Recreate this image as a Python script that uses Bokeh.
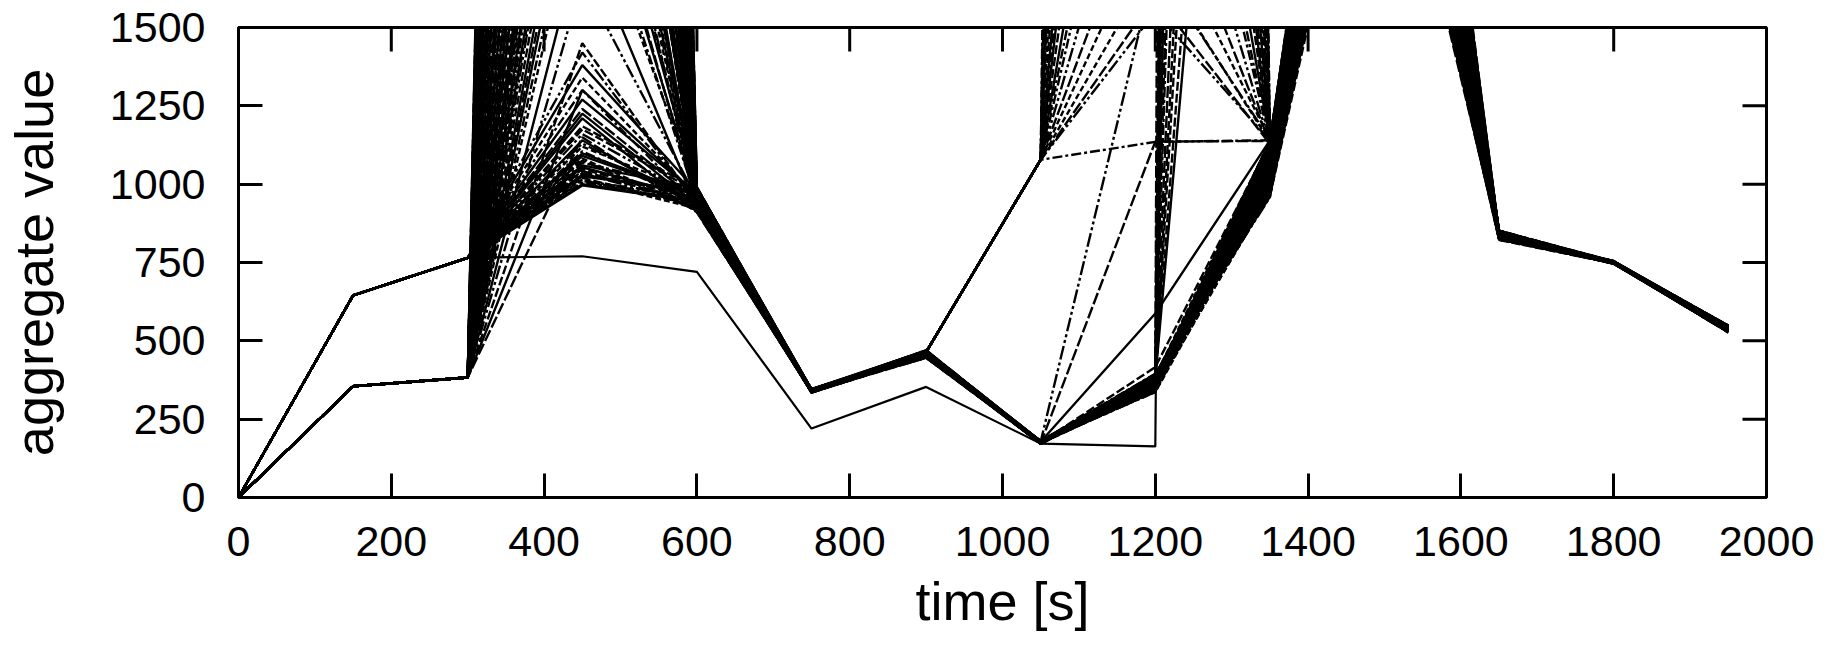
import math
from bokeh.plotting import figure
from bokeh.models import Range1d, FixedTicker
from bokeh.embed import file_html
from bokeh.resources import INLINE

# ---------------- data ----------------
times = [0, 150, 300, 450, 600, 750, 900, 1050, 1200, 1350, 1500, 1650, 1800, 1950]
x_ticks = [0, 200, 400, 600, 800, 1000, 1200, 1400, 1600, 1800, 2000]
y_ticks = [0, 250, 500, 750, 1000, 1250, 1500]

# the separate lower run
run_low = [0, 645, 765, 770, 720, 220, 353, 172, 163, 40000, 2800, 840, 750, 540]

# further runs, set 1 (63 runs: 42 through 383 at t=300, 21 through 765)
# and set 2 (42 runs: 30 through 383 at t=300, 12 through 765)
v0 = [0] * 105
v150 = [355] * 42 + [645] * 21 + [355] * 30 + [645] * 12
v300 = [383] * 42 + [765] * 21 + [383] * 30 + [765] * 12
v450 = [17100, 16300, 15600, 14950, 14300, 13300, 12350, 11550, 10850, 9950,
        9200, 8550, 8000, 7350, 6800, 6350, 5800, 5300, 4900, 4550,
        4300, 4000, 3800, 3600, 3450, 3200, 3050, 2900, 2750, 2600,
        2500, 2400, 2300, 2220, 2150, 2060, 1980, 1800, 1650, 1450,
        1300, 1150,
        996, 1005, 1015, 1025, 1035, 1048, 1060, 1075, 1090, 1105,
        1120, 1140, 1160, 1185, 1210, 1240, 1270, 1300, 1340, 1380, 1420,
        16800, 15900, 15200, 14600, 13800, 12800, 11950, 11200, 10350, 9600,
        8900, 8300, 7650, 7100, 6600, 6050, 5550, 5100, 4750, 4400,
        4150, 3900, 3700, 3500, 3300, 3150, 2950, 2800, 2700, 2550,
        1000, 1010, 1020, 1030, 1042, 1054, 1068, 1082, 1098, 1130, 1175, 1225]
v600 = [950, 985, 972, 940, 962, 930, 978, 955, 915, 990, 945, 968, 925, 982, 958,
        935, 975, 948, 920, 988, 960, 938, 970, 912, 952, 980, 928, 965, 942, 986,
        918, 957, 974, 933, 962, 946, 979, 924, 954, 937, 967, 910,
        944, 958, 922, 976, 935, 951, 988, 916, 963, 941, 971, 929, 956, 984, 913,
        947, 969, 932, 961, 978, 939,
        948, 983, 927, 966, 913, 958, 976, 939, 991, 952, 921, 969, 944, 986, 931,
        961, 917, 974, 949, 936, 981, 957, 926, 965, 943, 989, 933, 971, 919, 953,
        947, 962, 929, 973, 938, 955, 984, 921, 966, 942, 977, 934]
v750 = [340, 338, 343, 336, 341, 345, 337, 339, 342, 335, 344, 338, 340, 346, 336,
        341, 339, 343, 337, 345, 340, 335, 342, 338, 344, 336, 341, 339, 346, 337,
        343, 340, 338, 345, 336, 342, 339, 344, 337, 341, 335, 343,
        339, 342, 336, 345, 338, 341, 344, 337, 340, 343, 335, 346, 339, 342, 336,
        341, 338, 344, 340, 337, 343,
        339, 344, 337, 342, 346, 335, 340, 343, 338, 345, 336, 341, 344, 339, 337,
        342, 345, 336, 340, 343, 338, 341, 346, 335, 339, 344, 337, 342, 340, 338,
        343, 336, 341, 345, 339, 337, 342, 344, 338, 340, 335, 343]
v900 = [458, 452, 466, 464, 449, 461, 464, 455, 468, 464, 447, 459, 464, 463, 451,
        464, 457, 469, 464, 448, 462, 464, 454, 466, 464, 450, 460, 464, 456, 467,
        464, 446, 461, 464, 453, 465, 464, 449, 458, 470, 452, 463,
        455, 468, 464, 447, 460, 452, 466, 464, 450, 462, 457, 469, 464, 448, 459,
        454, 467, 464, 451, 461, 456,
        464, 457, 449, 466, 464, 452, 469, 455, 464, 447, 461, 458, 464, 450, 467,
        453, 464, 460, 448, 465, 464, 456, 451, 468, 464, 459, 446, 462, 464, 454,
        457, 463, 449, 468, 452, 460, 446, 465, 455, 470, 450, 461]
v1050 = [176, 179, 173, 1078, 180, 175, 1078, 178, 171, 1078, 180, 177, 1078, 174, 179,
         1078, 178, 172, 1078, 180, 176, 1078, 173, 179, 1078, 178, 171, 1078, 180, 175,
         1078, 179, 177, 1078, 174, 180, 1078, 172, 179, 176, 178, 173,
         178, 174, 1078, 179, 176, 172, 180, 1078, 179, 175, 180, 173, 1078, 177, 180,
         174, 179, 1078, 176, 171, 178,
         1078, 177, 173, 179, 1078, 175, 180, 172, 1078, 178, 174, 176, 1078, 179, 171,
         177, 1078, 173, 180, 175, 1078, 178, 172, 176, 1078, 179, 174, 177, 1078, 173,
         176, 179, 172, 178, 174, 180, 175, 171, 177, 179, 173, 178]
v1200 = [372, 384, 356, 30000, 390, 341, 13800, 379, 365, 20000, 348, 393, 7450, 376, 338,
         10000, 386, 361, 5300, 395, 352, 4250, 381, 344, 3200, 388, 368, 2670, 336, 374,
         2350, 382, 359, 2060, 391, 346, 1870, 377, 1700, 416, 587, 1136,
         363, 387, 1710, 350, 383, 378, 340, 1600, 370, 392, 355, 380, 1550, 366, 389,
         343, 375, 1135, 358, 385, 347,
         25000, 369, 354, 389, 17000, 345, 380, 362, 12000, 393, 339, 373, 9000, 358, 386,
         349, 6300, 377, 366, 391, 4700, 352, 383, 337, 3700, 371, 360, 388, 2900, 344,
         367, 382, 353, 394, 376, 342, 364, 387, 357, 379, 349, 372]
v1350 = [1050, 84000, 985, 1125, 42000, 1110, 1138, 962, 24000, 1130, 1075, 1002, 1142, 17000, 1128,
         1134, 1020, 1090, 1145, 11600, 968, 1122, 1065, 1118, 1140, 8800, 1035, 1136, 995, 1100,
         1127, 6400, 1138, 1132, 975, 1082, 1143, 1012, 1142, 1130, 1140, 1138,
         1058, 990, 1135, 1105, 958, 5200, 1132, 1128, 1028, 980, 1120, 4500, 1139, 1045, 1070,
         1115, 1008, 1140, 1095, 965, 1140,
         1133, 1015, 36000, 1092, 1141, 972, 1060, 1125, 1137, 1040, 20000, 988, 1129, 1108, 1080,
         1003, 1144, 1135, 13500, 960, 1126, 1052, 1118, 1025, 1139, 978, 1097, 1067, 1131, 1112,
         1030, 1085, 7500, 970, 1124, 1048, 1000, 1137, 1062, 992, 1110, 1018]
v1500 = [2900, 3300, 3100, 2600, 2450, 3500, 2750, 2600, 3650, 2350, 3000, 2700, 3400, 2550, 2400,
         3200, 2850, 3550, 2500, 3050, 2950, 2650, 3350, 2450, 3600, 2800, 3150, 2350, 2680, 3450,
         2550, 3250, 2400, 3700, 2780, 3000, 2600, 3380, 2480, 2900, 3120, 2560,
         3050, 2750, 3300, 2450, 2880, 3500, 2600, 3180, 2980, 3420, 2380, 2700, 3600, 2520, 3280,
         2830, 3060, 2420, 3350, 2650, 2950,
         2700, 3150, 2900, 2480, 3400, 2950, 2600, 3550, 2420, 3050, 2750, 3250, 2530, 3620, 2680,
         2980, 2380, 3480, 2820, 3100, 2620, 3320, 2460, 2870, 3580, 3020, 2560, 3200, 2720, 3440,
         2780, 3120, 2500, 3000, 2640, 3360, 2920, 2400, 3240, 2860, 3520, 2580]
v1650 = [840, 832, 848, 826, 844, 836, 850, 829, 842, 834, 847, 823, 839, 845, 831,
         852, 837, 828, 843, 835, 849, 825, 841, 833, 846, 830, 838, 851, 827, 844,
         836, 848, 824, 840, 832, 846, 829, 843, 835, 850, 826, 839,
         845, 831, 848, 837, 823, 842, 834, 851, 828, 840, 846, 833, 838, 825, 849,
         836, 843, 830, 847, 827, 841,
         833, 847, 825, 841, 850, 829, 838, 844, 822, 836, 849, 831, 843, 827, 846,
         835, 852, 824, 840, 845, 830, 848, 837, 826, 842, 851, 834, 839, 828, 845,
         832, 846, 824, 840, 849, 836, 828, 843, 851, 834, 838, 826]
v1800 = [750, 748, 752, 747, 751, 754, 748, 752, 747, 753, 749, 754, 746, 751, 748,
         752, 747, 750, 754, 748, 752, 747, 749, 753, 748, 751, 747, 754, 750, 746,
         752, 748, 752, 749, 754, 747, 751, 748, 753, 747, 750, 752,
         749, 752, 747, 754, 748, 751, 746, 752, 748, 750, 754, 747, 752, 749, 753,
         747, 751, 748, 752, 748, 750,
         748, 752, 747, 751, 754, 748, 750, 753, 747, 752, 749, 754, 746, 751, 748,
         752, 747, 750, 754, 748, 752, 747, 749, 753, 748, 751, 747, 752, 750, 748,
         751, 747, 753, 748, 750, 754, 747, 752, 749, 752, 748, 750]
v1950 = [538, 531, 545, 528, 541, 534, 548, 530, 543, 536, 529, 546, 533, 540, 527,
         544, 537, 532, 547, 539, 535, 542, 528, 549, 531, 538, 544, 533, 540, 529,
         546, 536, 542, 530, 539, 547, 534, 541, 528, 545, 532, 537,
         540, 533, 547, 529, 543, 536, 531, 545, 538, 527, 542, 535, 548, 532, 539,
         544, 530, 546, 534, 541, 537,
         535, 543, 529, 546, 532, 540, 548, 531, 538, 544, 527, 541, 536, 547, 530,
         542, 534, 549, 533, 539, 545, 528, 537, 543, 531, 546, 535, 540, 529, 544,
         538, 530, 545, 533, 541, 548, 536, 528, 543, 539, 546, 532]

columns = [v0, v150, v300, v450, v600, v750, v900, v1050, v1200, v1350, v1500, v1650, v1800, v1950]

# ---------------- styling ----------------
dash_cycle = ["solid", "12 3", "solid", "10 3 3 3", "6 3", "solid", "14 3 3 3 3 3", "9 3"]
FONT = "Liberation Sans"

p = figure(width=1844, height=651, x_range=Range1d(0, 2000), y_range=Range1d(0, 1500),
           output_backend="svg", toolbar_location=None,
           min_border_left=238, min_border_right=78, min_border_top=27, min_border_bottom=154,
           x_axis_label="time [s]", y_axis_label="aggregate value")
p.xgrid.grid_line_color = None
p.ygrid.grid_line_color = None
p.outline_line_color = "black"
p.outline_line_width = 3
p.background_fill_color = "white"
p.border_fill_color = "white"

for ax, ticks in ((p.xaxis[0], x_ticks), (p.yaxis[0], y_ticks)):
    ax.ticker = FixedTicker(ticks=ticks)
    ax.major_tick_in = 24
    ax.major_tick_out = 0
    ax.minor_tick_line_color = None
    ax.major_tick_line_width = 3
    ax.major_tick_line_color = "black"
    ax.axis_line_width = 3
    ax.axis_line_color = "black"
    ax.major_label_text_font = FONT
    ax.major_label_text_font_size = "43px"
    ax.major_label_text_color = "black"
    ax.axis_label_text_font = FONT
    ax.axis_label_text_font_size = "54px"
    ax.axis_label_text_font_style = "normal"
    ax.axis_label_text_color = "black"
p.xaxis[0].major_label_standoff = 29
p.xaxis[0].axis_label_standoff = 12
p.yaxis[0].major_label_standoff = 33
p.yaxis[0].axis_label_standoff = 43

# mirrored inward ticks on the top and right frame edges
p.ray(x=x_ticks, y=[y_ticks[-1]] * len(x_ticks), length=24, length_units="screen",
      angle=-math.pi / 2, line_color="black", line_width=3)
p.ray(x=[x_ticks[-1]] * len(y_ticks), y=y_ticks, length=24, length_units="screen",
      angle=math.pi, line_color="black", line_width=3)

p.line(times, run_low, line_color="black", line_width=2.2)
for i in range(len(v0)):
    ys = [col[i] for col in columns]
    p.line(times, ys, line_color="black", line_width=2.4,
           line_dash=dash_cycle[i % len(dash_cycle)])

open("out.html", "w").write(file_html(p, INLINE))
